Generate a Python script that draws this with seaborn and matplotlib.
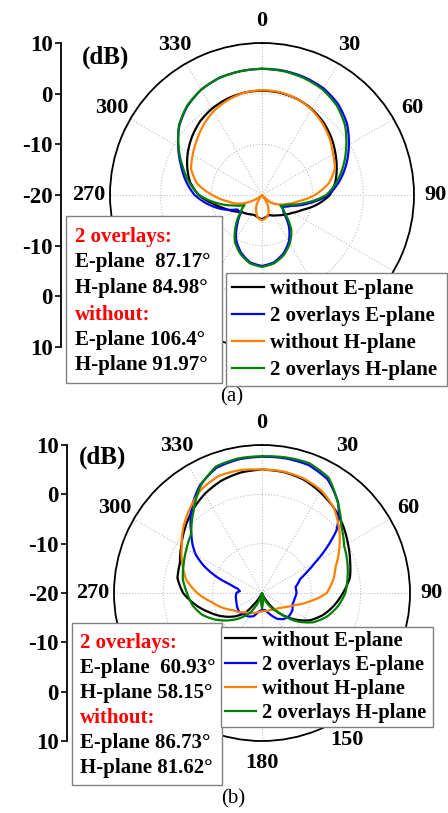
import numpy as np
import matplotlib
matplotlib.use("Agg")
import matplotlib.pyplot as plt
import seaborn as sns
from matplotlib.patches import Rectangle

# ---------------- data ----------------
theta_labels = ["0", "30", "60", "90", "120", "150", "180", "210", "240", "270", "300", "330"]
theta_ticks = [0, 30, 60, 90, 120, 150, 180, 210, 240, 270, 300, 330]
r_tick_pos = [30, 20, 10, 0, -10, -20, -30]
r_tick_labels = ["10", "0", "-10", "-20", "-10", "0", "10"]
series_names = ["without E-plane", "2 overlays E-plane", "without H-plane", "2 overlays H-plane"]
series_colors = ["#000000", "#0000ff", "#ff8000", "#008000"]

ang10 = list(range(0, 361, 10))

# panel (a)
a_black_ang = ang10
a_black_db = [0.6, 0.5, 0.2, -0.4, -1.2, -2.2, -3.3, -4.3, -5.3, -6.6, -9.0, -11.5, -13.0, -14.0, -14.8,
              -15.3, -15.8, -15.6, -15.2, -15.5, -15.8, -15.6, -15.2, -14.8, -13.6, -12.2, -10.2, -7.5,
              -5.6, -4.3, -3.1, -2.0, -1.0, -0.3, 0.2, 0.5, 0.6]
a_blue_ang = ang10
a_blue_db = [4.9, 4.9, 4.7, 4.3, 3.4, 1.9, -0.2, -2.3, -4.5, -6.9, -10.6, -13.8, -15.4, -14.4, -11.7,
             -9.4, -7.7, -6.5, -6.0, -6.5, -7.9, -9.8, -12.4, -14.6, -14.3, -11.8, -9.3, -6.7, -4.8,
             -3.0, -0.9, 1.3, 2.9, 4.0, 4.6, 4.8, 4.9]
a_orange_ang = [0, 10, 20, 30, 40, 50, 60, 70, 80, 90, 100, 110, 120, 130, 135, 140, 145, 150, 160, 170,
                180, 190, 200, 210, 215, 220, 225, 230, 235, 240, 250, 260, 270, 280, 290, 300, 310, 320,
                330, 340, 350, 360]
a_orange_db = [0.7, 0.6, 0.2, -0.5, -1.5, -2.6, -3.8, -4.7, -6.6, -9.6, -12.8, -14.8, -16.3, -17.6, -19.0,
               -20.0, -19.0, -17.8, -16.2, -15.4, -15.0, -15.4, -16.6, -18.0, -19.5, -20.0, -20.0, -19.5,
               -18.8, -17.5, -15.0, -13.0, -10.2, -7.0, -5.1, -4.2, -3.2, -2.0, -0.9, -0.1, 0.5, 0.7]
a_green_ang = ang10
a_green_db = [4.9, 4.8, 4.5, 4.0, 3.0, 1.4, -0.8, -2.9, -5.0, -7.3, -11.2, -14.5, -15.8, -13.9, -11.0,
              -9.0, -7.4, -6.3, -5.8, -6.3, -7.6, -9.3, -11.9, -14.3, -16.0, -14.0, -10.9, -7.6, -5.4,
              -3.3, -1.0, 1.4, 3.0, 4.0, 4.6, 4.8, 4.9]

# panel (b)
b_black_ang = [0, 10, 20, 30, 40, 50, 60, 70, 80, 90, 100, 110, 120, 130, 140, 150, 160, 170, 180, 190,
               200, 210, 215, 220, 230, 240, 250, 260, 270, 280, 290, 300, 310, 320, 330, 340, 350, 360]
b_black_db = [5.0, 4.9, 4.5, 3.6, 2.6, 1.4, 0.1, -1.0, -1.9, -3.6, -5.2, -6.9, -8.9, -11.8, -14.8, -18.2,
              -20.0, -20.0, -20.0, -20.0, -20.0, -19.0, -17.3, -14.8, -12.6, -10.6, -8.6, -6.3, -4.0, -2.6,
              -2.3, -1.1, 0.4, 1.9, 3.2, 4.2, 4.8, 5.0]
b_blue_ang = [0, 10, 20, 30, 40, 45, 50, 55, 60, 65, 70, 80, 90, 100, 110, 120, 130, 140, 150, 160, 170,
              180, 190, 200, 210, 220, 230, 240, 250, 260, 270, 275, 280, 285, 290, 295, 300, 305, 310,
              320, 330, 340, 350, 360]
b_blue_db = [7.6, 7.7, 7.6, 6.6, 4.0, 2.0, -0.3, -4.0, -7.5, -10.0, -11.8, -13.1, -13.0, -13.3, -13.4,
             -12.9, -12.8, -13.1, -14.0, -15.5, -16.5, -16.6, -16.2, -15.0, -14.5, -14.3, -14.0, -14.2,
             -14.5, -14.6, -14.8, -15.5, -15.0, -13.3, -10.0, -7.0, -4.5, -2.8, -1.3, 2.3, 5.2, 7.0, 7.5, 7.6]
b_orange_ang = ang10
b_orange_db = [5.0, 5.0, 4.7, 4.0, 2.6, 0.4, -1.9, -4.1, -5.4, -6.9, -10.2, -12.9, -14.4, -15.3, -15.8,
               -16.1, -16.2, -16.3, -16.3, -16.1, -15.7, -15.3, -14.9, -14.0, -13.1, -11.4, -9.6, -6.9,
               -4.4, -2.8, -1.2, 0.8, 2.6, 4.4, 5.3, 5.3, 5.0]
b_green_ang = [0, 10, 20, 30, 40, 50, 60, 70, 80, 90, 100, 110, 120, 130, 140, 150, 160, 170, 175, 180,
               185, 190, 200, 210, 220, 230, 240, 250, 260, 270, 280, 290, 300, 310, 320, 330, 340, 350, 360]
b_green_db = [7.7, 7.9, 8.0, 7.0, 3.9, 1.0, -0.8, -1.6, -2.4, -3.1, -4.4, -6.0, -8.1, -11.2, -15.0, -17.0,
              -19.0, -20.0, -18.0, -16.9, -18.0, -20.0, -18.8, -15.6, -13.5, -11.4, -9.2, -7.1, -5.7, -4.8,
              -3.7, -3.1, -2.3, -1.3, 1.6, 5.0, 7.3, 7.7, 7.7]

a_box_lines = ["2 overlays:", "E-plane  87.17°", "H-plane 84.98°", "without:", "E-plane 106.4°", "H-plane 91.97°"]
b_box_lines = ["2 overlays:", "E-plane  60.93°", "H-plane 58.15°", "without:", "E-plane 86.73°", "H-plane 81.62°"]
box_colors = ["#ff0000", "#000000", "#000000", "#ff0000", "#000000", "#000000"]

panel_a = [(a_black_ang, a_black_db), (a_blue_ang, a_blue_db), (a_orange_ang, a_orange_db), (a_green_ang, a_green_db)]
panel_b = [(b_black_ang, b_black_db), (b_blue_ang, b_blue_db), (b_orange_ang, b_orange_db), (b_green_ang, b_green_db)]

# ---------------- figure ----------------
plt.rcParams["font.family"] = ["Liberation Serif", "DejaVu Serif"]
W, H = 448, 813
fig = plt.figure(figsize=(W / 100, H / 100), dpi=100)
fig.patch.set_facecolor("white")


def fx(px):
    return px / W


def fy(py):
    return 1 - py / H


FONT = dict(family=["Liberation Serif", "DejaVu Serif"], weight="bold")


def make_panel(cx, cy, rad, series, lin_x, dB_xy, legend_box, leg_size, leg_space, leg_pad, text_box,
               text_x, text_ys, lines, caption_xy, caption):
    ax = fig.add_axes([fx(cx - rad), fy(cy + rad), 2 * rad / W, 2 * rad / H], projection="polar")
    ax.set_theta_zero_location("N")
    ax.set_theta_direction(-1)
    for (ang, db), name, col in zip(series, series_names, series_colors):
        sns.lineplot(x=np.deg2rad(ang), y=db, ax=ax, sort=False, estimator=None,
                     color=col, lw=1.6, label=name, legend=False)
    # draw segments as smooth polar arcs/spirals rather than chords
    for ln in ax.lines:
        ln.get_path()._interpolation_steps = 12
    ax.set_rlim(-20, 10)
    ax.set_rticks([-10, 0, 10])
    ax.set_yticklabels([])
    ax.set_thetagrids(theta_ticks, labels=theta_labels)
    ax.set_xlabel("")
    ax.set_ylabel("")
    for lab in ax.get_xticklabels():
        lab.set_fontsize(16)
        lab.set_fontweight("bold")
    ax.tick_params(axis="x", pad=8.5, direction="in", length=5, width=1, colors="black")
    ax.grid(True, color="#c0c0c0", linestyle=":", linewidth=0.8)
    ax.spines["polar"].set_linewidth(1.3)
    ax.spines["polar"].set_color("black")

    # linear dB axis on the left
    lax = fig.add_axes([fx(lin_x), fy(cy + rad), 1 / W, 2 * rad / H])
    lax.set_facecolor("none")
    for s in ["top", "right", "bottom"]:
        lax.spines[s].set_visible(False)
    lax.spines["left"].set_linewidth(1.3)
    lax.set_ylim(-30, 30)
    lax.set_xticks([])
    lax.set_yticks(r_tick_pos)
    lax.set_yticklabels(r_tick_labels)
    lax.tick_params(axis="y", direction="out", length=4, width=1.2, pad=2)
    for lab in lax.get_yticklabels():
        lab.set_fontsize(16.5)
        lab.set_fontweight("bold")

    fig.text(fx(dB_xy[0]), fy(dB_xy[1]), "(dB)", ha="center", va="center", fontsize=18, **FONT)

    # legend (frame stretched to the reference box width)
    lx0, ly0, lx1 = legend_box
    handles, labels = ax.get_legend_handles_labels()
    leg = fig.legend(handles, labels, loc="upper left",
                     bbox_to_anchor=(fx(lx0), fy(ly0), (lx1 - lx0) / W, 0.0001), mode="expand",
                     frameon=True, fancybox=False, framealpha=1, edgecolor="#808080",
                     prop=dict(family=["Liberation Serif"], weight="bold", size=leg_size),
                     handlelength=1.5, handletextpad=0.3, labelspacing=leg_space, borderaxespad=0,
                     borderpad=leg_pad)
    leg.get_frame().set_linewidth(1.0)
    leg.set_zorder(10)

    # text box
    x0, y0, x1, y1 = text_box
    rect = Rectangle((fx(x0), fy(y1)), (x1 - x0) / W, (y1 - y0) / H, transform=fig.transFigure,
                     facecolor="white", edgecolor="#808080", lw=1.0, zorder=10)
    fig.add_artist(rect)
    for yy, s, c in zip(text_ys, lines, box_colors):
        t = fig.text(fx(text_x), fy(yy), s, ha="left", va="center", fontsize=15, color=c, **FONT)
        t.set_zorder(11)

    fig.text(fx(caption_xy[0]), fy(caption_xy[1]), caption, ha="center", va="center", fontsize=15,
             family=["Liberation Serif"])
    return ax


make_panel(262, 195, 152, panel_a, 61, (106, 57), (226, 273, 447), 15, 0.33, 0.3, (66, 216, 222, 383), 75,
           [237, 262, 288, 315, 340, 365], a_box_lines, (232, 397), "(a)")
make_panel(262, 593, 148, panel_b, 67, (103, 457), (221, 627, 433), 14.8, 0.2, 0.18, (72, 623, 222, 785), 80,
           [643, 668, 693, 718, 743, 768], b_box_lines, (233, 799), "(b)")

fig.savefig("out.png", dpi=100, facecolor="white")
